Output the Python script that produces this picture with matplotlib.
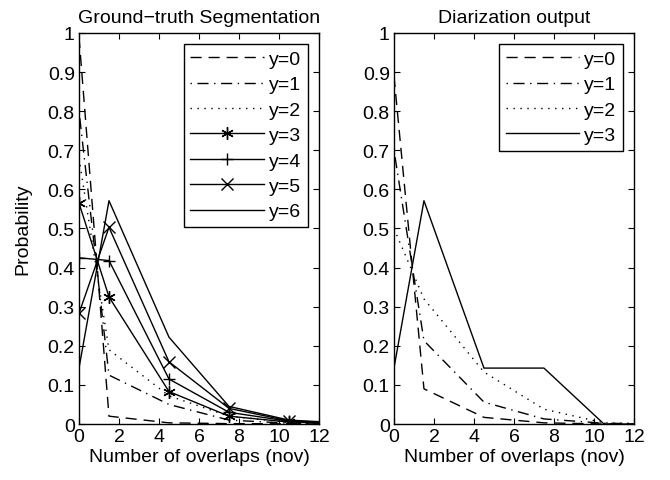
import matplotlib

matplotlib.use("Agg")
import matplotlib.pyplot as plt

plt.rcParams["font.family"] = ["Liberation Sans", "DejaVu Sans"]

# bin centres of the overlap histogram
nov = [0, 1.5, 4.5, 7.5, 10.5, 13.5]

# ground-truth segmentation, one list per y
gt_y0 = [0.99, 0.02, 0.003, 0.001, 0.0005, 0.0]
gt_y1 = [0.80, 0.125, 0.05, 0.01, 0.002, 0.0]
gt_y2 = [0.68, 0.19, 0.072, 0.02, 0.004, 0.001]
gt_y3 = [0.565, 0.325, 0.083, 0.02, 0.005, 0.001]
gt_y4 = [0.425, 0.418, 0.115, 0.03, 0.007, 0.002]
gt_y5 = [0.283, 0.503, 0.159, 0.04, 0.008, 0.002]
gt_y6 = [0.143, 0.571, 0.222, 0.045, 0.01, 0.002]

# diarization output
di_y0 = [0.89, 0.09, 0.017, 0.003, 0.0, 0.0]
di_y1 = [0.70, 0.213, 0.056, 0.013, 0.002, 0.0]
di_y2 = [0.50, 0.32, 0.133, 0.038, 0.003, 0.0]
di_y3 = [0.143, 0.571, 0.143, 0.143, 0.0, 0.0]

gt_series = [gt_y0, gt_y1, gt_y2, gt_y3, gt_y4, gt_y5, gt_y6]
di_series = [di_y0, di_y1, di_y2, di_y3]

asterisk = (6, 2, 0)
styles = [
    dict(linestyle=(0, (8, 5)), marker=None),
    dict(linestyle=(0, (1, 4, 8, 4)), marker=None),
    dict(linestyle=(0, (1, 4)), marker=None),
    dict(linestyle="-", marker=asterisk),
    dict(linestyle="-", marker="+"),
    dict(linestyle="-", marker="x"),
    dict(linestyle="-", marker=None),
]
di_styles = [styles[0], styles[1], styles[2], styles[6]]

fig = plt.figure(figsize=(6.70, 4.81), dpi=100)
ax1 = fig.add_axes([0.1179, 0.1164, 0.3582, 0.813])
ax2 = fig.add_axes([0.588, 0.1164, 0.3582, 0.813])


def draw(ax, series, sty, title):
    for i, (vals, st) in enumerate(zip(series, sty)):
        ax.plot(nov, vals, color="black", linewidth=1.0, markersize=9,
                markeredgewidth=1.0, label="y=%d" % i, **st)
    ax.set_xlim(0, 12)
    ax.set_ylim(0, 1)
    ax.set_xticks(range(0, 13, 2))
    ax.set_yticks([i / 10 for i in range(11)])
    ax.set_yticklabels(["0"] + ["0.%d" % i for i in range(1, 10)] + ["1"])
    ax.tick_params(direction="in", top=True, right=True, labelsize=14,
                   length=4, width=0.8, pad=3)
    for sp in ax.spines.values():
        sp.set_linewidth(1.0)
    ax.set_title(title, fontsize=14, pad=8)
    ax.set_xlabel("Number of overlaps (nov)", fontsize=14, labelpad=2)
    leg = ax.legend(loc="upper right", fontsize=14, handlelength=3.8,
                    handletextpad=0.25, labelspacing=0.4, borderpad=0.35,
                    fancybox=False, framealpha=1, edgecolor="black",
                    borderaxespad=0.55)
    leg.get_frame().set_linewidth(1.0)


draw(ax1, gt_series, styles, "Ground\u2212truth Segmentation")
draw(ax2, di_series, di_styles, "Diarization output")
ax1.set_ylabel("Probability", fontsize=14, labelpad=12)

fig.savefig("out.png", dpi=100)
